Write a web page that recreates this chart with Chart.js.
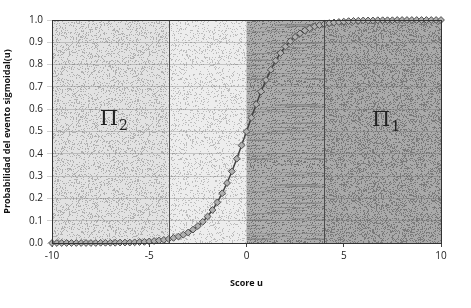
<!DOCTYPE html>
<html>
<head>
<meta charset="utf-8">
<script src="https://cdn.jsdelivr.net/npm/chart.js@4"></script>
<style>
  html, body { margin: 0; background: #fff; }
  #wrap { width: 471px; height: 308px; }
</style>
</head>
<body>
<div id="wrap"><canvas id="myChart"></canvas></div>
<script>
// score u (x) and sigmoid probability
const uValues = [-10,-9.75,-9.5,-9.25,-9,-8.75,-8.5,-8.25,-8,-7.75,-7.5,-7.25,-7,-6.75,-6.5,-6.25,
  -6,-5.75,-5.5,-5.25,-5,-4.75,-4.5,-4.25,-4,-3.75,-3.5,-3.25,-3,-2.75,-2.5,-2.25,
  -2,-1.75,-1.5,-1.25,-1,-0.75,-0.5,-0.25,0,0.25,0.5,0.75,1,1.25,1.5,1.75,
  2,2.25,2.5,2.75,3,3.25,3.5,3.75,4,4.25,4.5,4.75,5,5.25,5.5,5.75,
  6,6.25,6.5,6.75,7,7.25,7.5,7.75,8,8.25,8.5,8.75,9,9.25,9.5,9.75,10];
const pValues = [0.000,0.000,0.000,0.000,0.000,0.000,0.000,0.000,0.000,0.000,0.001,0.001,0.001,0.001,0.002,0.002,
  0.002,0.003,0.004,0.005,0.007,0.009,0.011,0.014,0.018,0.023,0.029,0.037,0.047,0.060,0.076,0.095,
  0.119,0.148,0.182,0.223,0.269,0.321,0.378,0.438,0.500,0.562,0.622,0.679,0.731,0.777,0.818,0.852,
  0.881,0.905,0.924,0.940,0.953,0.963,0.971,0.977,0.982,0.986,0.989,0.991,0.993,0.995,0.996,0.997,
  0.998,0.998,0.998,0.999,0.999,0.999,0.999,1.000,1.000,1.000,1.000,1.000,1.000,1.000,1.000,1.000,1.000];

// shaded zones along u
const zoneStarts = [-10, -4, 0, 4];
const zoneEnds   = [-4, 0, 4, 10];
const zoneLines  = [-4, 4];

// texture tiles for the shaded zones (deterministic speckle)
function makeTile(base, dot, density, streaks, seed) {
  const c = document.createElement('canvas');
  c.width = 80; c.height = 80;
  const g = c.getContext('2d');
  g.fillStyle = base;
  g.fillRect(0, 0, 80, 80);
  let s = seed;
  const next = () => { s = (s * 1103515245 + 12345) & 0x7fffffff; return s / 0x7fffffff; };
  g.fillStyle = dot;
  for (let y = 0; y < 80; y++) {
    for (let x = 0; x < 80; x++) {
      if (next() < density) g.fillRect(x, y, 1, 1);
    }
  }
  if (streaks) {
    for (let i = 0; i < 40; i++) {
      const y = Math.floor(next() * 80), x = Math.floor(next() * 80), w = 10 + next() * 40;
      g.globalAlpha = 0.35;
      g.fillRect(x, y, w, 1);
      g.fillRect(x - 80, y, w, 1);
    }
    g.globalAlpha = 1;
  }
  return c;
}

const zonePlugin = {
  id: 'zones',
  beforeDraw(chart) {
    const { ctx, chartArea: a, scales: { x } } = chart;
    const tiles = [
      makeTile('#e2e2e2', '#b0b0b0', 0.20, false, 11),
      makeTile('#ededed', '#bdbdbd', 0.16, false, 23),
      makeTile('#adadad', '#747474', 0.28, true, 37),
      makeTile('#aaaaaa', '#7a7a7a', 0.30, false, 51)
    ];
    ctx.save();
    zoneStarts.forEach((u0, i) => {
      const x0 = x.getPixelForValue(u0), x1 = x.getPixelForValue(zoneEnds[i]);
      ctx.fillStyle = ctx.createPattern(tiles[i], 'repeat');
      ctx.fillRect(x0, a.top, x1 - x0, a.bottom - a.top);
    });
    ctx.restore();
  },
  afterDatasetsDraw(chart) {
    const { ctx, chartArea: a, scales: { x, y } } = chart;
    ctx.save();
    ctx.strokeStyle = '#4a4a4a';
    ctx.lineWidth = 1;
    zoneLines.forEach(u => {
      const px = Math.round(x.getPixelForValue(u)) + 0.5;
      ctx.beginPath(); ctx.moveTo(px, a.top); ctx.lineTo(px, a.bottom); ctx.stroke();
    });
    ctx.strokeStyle = '#333';
    ctx.strokeRect(Math.round(a.left) + 0.5, Math.round(a.top) + 0.5,
                   Math.round(a.right - a.left), Math.round(a.bottom - a.top));
    // region labels
    ctx.fillStyle = '#222';
    ctx.textBaseline = 'alphabetic';
    const lbl = (u, p, sub) => {
      const px = x.getPixelForValue(u), py = y.getPixelForValue(p);
      ctx.font = '21px "DejaVu Serif", "Liberation Serif", serif';
      ctx.fillText('\u03A0', px, py);
      const w = ctx.measureText('\u03A0').width;
      ctx.font = '14px "DejaVu Serif", "Liberation Serif", serif';
      ctx.fillText(sub, px + w + 1, py + 5);
    };
    lbl(-7.55, 0.53, '2');
    lbl(6.45, 0.525, '1');
    ctx.restore();
  }
};

new Chart('myChart', {
  type: 'line',
  data: {
    datasets: [{
      data: uValues.map((u, i) => ({ x: u, y: pValues[i] })),
      borderColor: '#404040',
      borderWidth: 1.5,
      pointStyle: 'rectRot',
      pointRadius: 3.4,
      pointBorderColor: '#505050',
      pointBorderWidth: 1,
      pointBackgroundColor: '#b0b0b0',
      fill: false,
      tension: 0,
      clip: false
    }]
  },
  plugins: [zonePlugin],
  options: {
    responsive: true,
    maintainAspectRatio: false,
    animation: false,
    layout: { padding: { top: 20, right: 30, bottom: 15, left: 0 } },
    plugins: { legend: { display: false }, tooltip: { enabled: false } },
    scales: {
      x: {
        type: 'linear',
        min: -10, max: 10,
        afterFit: s => { s.height = 50; },
        ticks: { stepSize: 5, color: '#222', padding: 3, font: { family: 'Open Sans, sans-serif', size: 10 } },
        grid: { drawOnChartArea: false, tickLength: 4, color: '#444' },
        border: { color: '#333' },
        title: { display: true, text: 'Score u', color: '#111', padding: { top: 2, bottom: 4 },
                 font: { family: 'Open Sans, sans-serif', size: 9, weight: 'bold' } }
      },
      y: {
        min: 0, max: 1,
        afterFit: s => { s.width = 52; },
        ticks: { stepSize: 0.1, color: '#222', padding: 4, callback: v => v.toFixed(1),
                 font: { family: 'Open Sans, sans-serif', size: 10 } },
        grid: { tickLength: 5, color: 'rgba(90,90,90,0.28)' },
        border: { color: '#333' },
        title: { display: true, text: 'Probabilidad del evento sigmoidal(u)', color: '#111',
                 padding: { top: 2, bottom: 2 },
                 font: { family: 'Open Sans, sans-serif', size: 9, weight: 'bold' } }
      }
    }
  }
});
</script>
</body>
</html>
